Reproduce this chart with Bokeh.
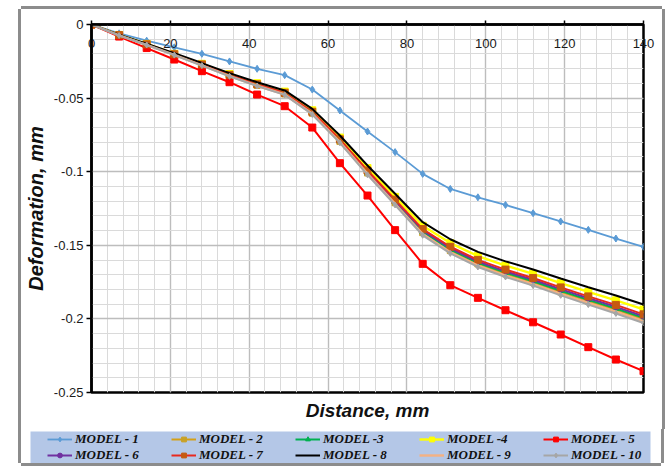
from bokeh.plotting import figure
from bokeh.models import FixedTicker, Legend, LegendItem, Title, Range1d
from bokeh.embed import file_html
from bokeh.resources import INLINE

# Distance along the section (mm)
distance = [0, 7, 14, 21, 28, 35, 42, 49, 56, 63, 70, 77, 84, 91, 98, 105, 112, 119, 126, 133, 140]

# Deformation (mm) for each model
model_1 = [0, -0.0060, -0.0110, -0.0155, -0.0199, -0.0251, -0.0301, -0.0344, -0.0442, -0.0584, -0.0727,
           -0.0867, -0.1015, -0.1117, -0.1174, -0.1226, -0.1282, -0.1338, -0.1395, -0.1454, -0.1510]
model_2 = [0, -0.0074, -0.0137, -0.0205, -0.0276, -0.0347, -0.0413, -0.0472, -0.0603, -0.0794, -0.1009,
           -0.1211, -0.1414, -0.1536, -0.1627, -0.1694, -0.1752, -0.1817, -0.1880, -0.1939, -0.2003]
model_3 = [0, -0.0073, -0.0136, -0.0204, -0.0275, -0.0346, -0.0411, -0.0470, -0.0601, -0.0790, -0.1004,
           -0.1205, -0.1407, -0.1529, -0.1619, -0.1686, -0.1744, -0.1809, -0.1871, -0.1929, -0.1993]
model_4 = [0, -0.0071, -0.0132, -0.0199, -0.0267, -0.0336, -0.0399, -0.0456, -0.0583, -0.0768, -0.0975,
           -0.1171, -0.1367, -0.1485, -0.1573, -0.1638, -0.1694, -0.1757, -0.1817, -0.1874, -0.1936]
model_5 = [0, -0.0082, -0.0160, -0.0238, -0.0317, -0.0392, -0.0476, -0.0555, -0.0700, -0.0942, -0.1162,
           -0.1397, -0.1626, -0.1771, -0.1857, -0.1941, -0.2023, -0.2106, -0.2192, -0.2276, -0.2355]
model_6 = [0, -0.0073, -0.0135, -0.0203, -0.0273, -0.0344, -0.0408, -0.0467, -0.0597, -0.0786, -0.0998,
           -0.1198, -0.1399, -0.1520, -0.1610, -0.1677, -0.1734, -0.1798, -0.1860, -0.1918, -0.1982]
model_7 = [0, -0.0072, -0.0135, -0.0202, -0.0271, -0.0342, -0.0406, -0.0464, -0.0593, -0.0780, -0.0992,
           -0.1190, -0.1390, -0.1510, -0.1599, -0.1665, -0.1722, -0.1786, -0.1847, -0.1905, -0.1969]
model_8 = [0, -0.0070, -0.0130, -0.0195, -0.0262, -0.0330, -0.0392, -0.0448, -0.0573, -0.0754, -0.0958,
           -0.1150, -0.1343, -0.1459, -0.1545, -0.1609, -0.1664, -0.1726, -0.1785, -0.1841, -0.1902]
model_9 = [0, -0.0074, -0.0138, -0.0207, -0.0278, -0.0350, -0.0416, -0.0475, -0.0607, -0.0799, -0.1015,
           -0.1219, -0.1424, -0.1547, -0.1638, -0.1706, -0.1764, -0.1830, -0.1892, -0.1951, -0.2016]
model_10 = [0, -0.0075, -0.0139, -0.0208, -0.0279, -0.0352, -0.0418, -0.0478, -0.0611, -0.0804, -0.1021,
            -0.1226, -0.1432, -0.1555, -0.1647, -0.1715, -0.1774, -0.1840, -0.1903, -0.1963, -0.2028]

model_names = ["MODEL - 1", "MODEL - 2", "MODEL -3", "MODEL -4", "MODEL - 5",
               "MODEL - 6", "MODEL - 7", "MODEL - 8", "MODEL - 9", "MODEL - 10"]

x_ticks = [0, 20, 40, 60, 80, 100, 120, 140]
y_ticks = [0, -0.05, -0.1, -0.15, -0.2, -0.25]
y_tick_labels = ["0", "-0.05", "-0.1", "-0.15", "-0.2", "-0.25"]

SANS = "Liberation Sans"
SERIF = "Liberation Serif"
FRAME = "#8c8c8c"

# (line colour, marker, marker colour, marker size, line width)
styles = [
    ("#5B9BD5", "diamond", "#5B9BD5", 7, 1.8),
    ("#D4A017", "square", "#C9A227", 6, 2.0),
    ("#00B050", "triangle", "#00B050", 6, 2.0),
    ("#FFFF00", "square", "#FFFF00", 7, 2.4),
    ("#FF0000", "square", "#FF0000", 7, 2.0),
    ("#7030A0", "circle", "#7030A0", 6, 2.0),
    ("#E8281E", "square", "#C55A11", 7, 2.0),
    ("#000000", None, None, 0, 2.0),
    ("#F4B183", None, None, 0, 2.4),
    ("#A6A6A6", "diamond", "#A6A6A6", 6, 2.0),
]
series = [model_1, model_2, model_3, model_4, model_5,
          model_6, model_7, model_8, model_9, model_10]

# ---------------- main chart ----------------
p = figure(frame_width=552, frame_height=368, x_range=Range1d(0, 140), y_range=Range1d(-0.25, 0),
           x_axis_location="above", output_backend="svg", toolbar_location=None,
           min_border_left=69, min_border_right=19, min_border_top=15, min_border_bottom=37,
           background_fill_color="white", border_fill_color="white")
p.margin = (9, 0, 0, 21)
p.styles = {"box-shadow": f"-3px 0 0 0 {FRAME}, 3px 0 0 0 {FRAME}, 0 -3px 0 0 {FRAME}"}

p.outline_line_color = "black"
p.outline_line_width = 2.5
p.outline_line_alpha = 1

# grid: majors every 20 / 0.05, minors every 4 / 0.01
p.xgrid.ticker = FixedTicker(ticks=x_ticks, minor_ticks=list(range(0, 141, 4)))
p.ygrid.ticker = FixedTicker(ticks=y_ticks, minor_ticks=[-k / 100 for k in range(0, 26)])
for g in (p.xgrid, p.ygrid):
    g.grid_line_color = "#BDBDBD"
    g.grid_line_width = 1.4
    g.minor_grid_line_color = "#DADADA"
    g.minor_grid_line_width = 1

# distance axis along the top; its labels hang just below the axis line
xa = p.xaxis[0]
xa.ticker = FixedTicker(ticks=x_ticks)
xa.axis_line_width = 2.5
xa.axis_line_color = "black"
xa.major_tick_out = 4
xa.major_tick_in = 0
xa.major_tick_line_width = 1.5
xa.minor_tick_line_color = None
xa.major_label_standoff = -27
xa.major_label_text_font = SANS
xa.major_label_text_font_size = "13px"
xa.major_label_text_color = "#1a1a1a"

ya = p.yaxis[0]
ya.ticker = FixedTicker(ticks=y_ticks)
ya.major_label_overrides = dict(zip(y_ticks, y_tick_labels))
ya.axis_line_width = 2.5
ya.axis_line_color = "black"
ya.major_tick_out = 5
ya.major_tick_in = 0
ya.major_tick_line_width = 1.5
ya.minor_tick_line_color = None
ya.major_label_standoff = 3
ya.major_label_text_font = SANS
ya.major_label_text_font_size = "13px"
ya.major_label_text_color = "#1a1a1a"
ya.axis_label = "Deformation, mm"
ya.axis_label_text_font = SANS
ya.axis_label_text_font_size = "20px"
ya.axis_label_text_font_style = "bold italic"
ya.axis_label_text_color = "#111111"
ya.axis_label_standoff = 4

for ys, (lc, mk, mc, ms, lw) in zip(series, styles):
    p.line(distance, ys, line_color=lc, line_width=lw)
    if mk is not None:
        p.scatter(distance, ys, marker=mk, size=ms, fill_color=mc, line_color=mc)

p.add_layout(Title(text="Distance, mm", align="center", text_font=SANS,
                   text_font_size="19px", text_font_style="bold italic",
                   text_color="#111111"), "below")

# ---------------- legend strip ----------------
# same series, drawn outside this strip's view so only the legend shows
lg = figure(width=640, height=34, x_range=Range1d(1000, 1001), y_range=Range1d(1000, 1001),
            x_axis_location=None, y_axis_location=None, output_backend="svg",
            toolbar_location=None, min_border_left=9, min_border_right=11,
            min_border_top=2, min_border_bottom=0,
            background_fill_color="#B4C7E7", border_fill_color="white")
lg.margin = (0, 0, 0, 21)
lg.styles = {"box-shadow": f"-3px 0 0 0 {FRAME}, 3px 0 0 0 {FRAME}, 0 3px 0 0 {FRAME}"}
lg.grid.visible = False
lg.outline_line_color = None

items = []
for name, ys, (lc, mk, mc, ms, lw) in zip(model_names, series, styles):
    rs = [lg.line(distance, ys, line_color=lc, line_width=lw)]
    if mk is not None:
        rs.append(lg.scatter(distance, ys, marker=mk, size=ms, fill_color=mc, line_color=mc))
    items.append(LegendItem(label=name, renderers=rs))

for row, yloc in ((items[:5], 16), (items[5:], 0)):
    leg = Legend(items=row, orientation="horizontal", location=(17, yloc),
                 glyph_width=25, glyph_height=12, label_width=70, label_height=13,
                 label_standoff=3, spacing=26, padding=0, margin=0,
                 background_fill_alpha=0, border_line_color=None,
                 label_text_font=SERIF, label_text_font_style="bold italic",
                 label_text_font_size="13px", label_text_color="#111111")
    lg.add_layout(leg, "center")

open("out.html", "w").write(file_html([p, lg], INLINE))
